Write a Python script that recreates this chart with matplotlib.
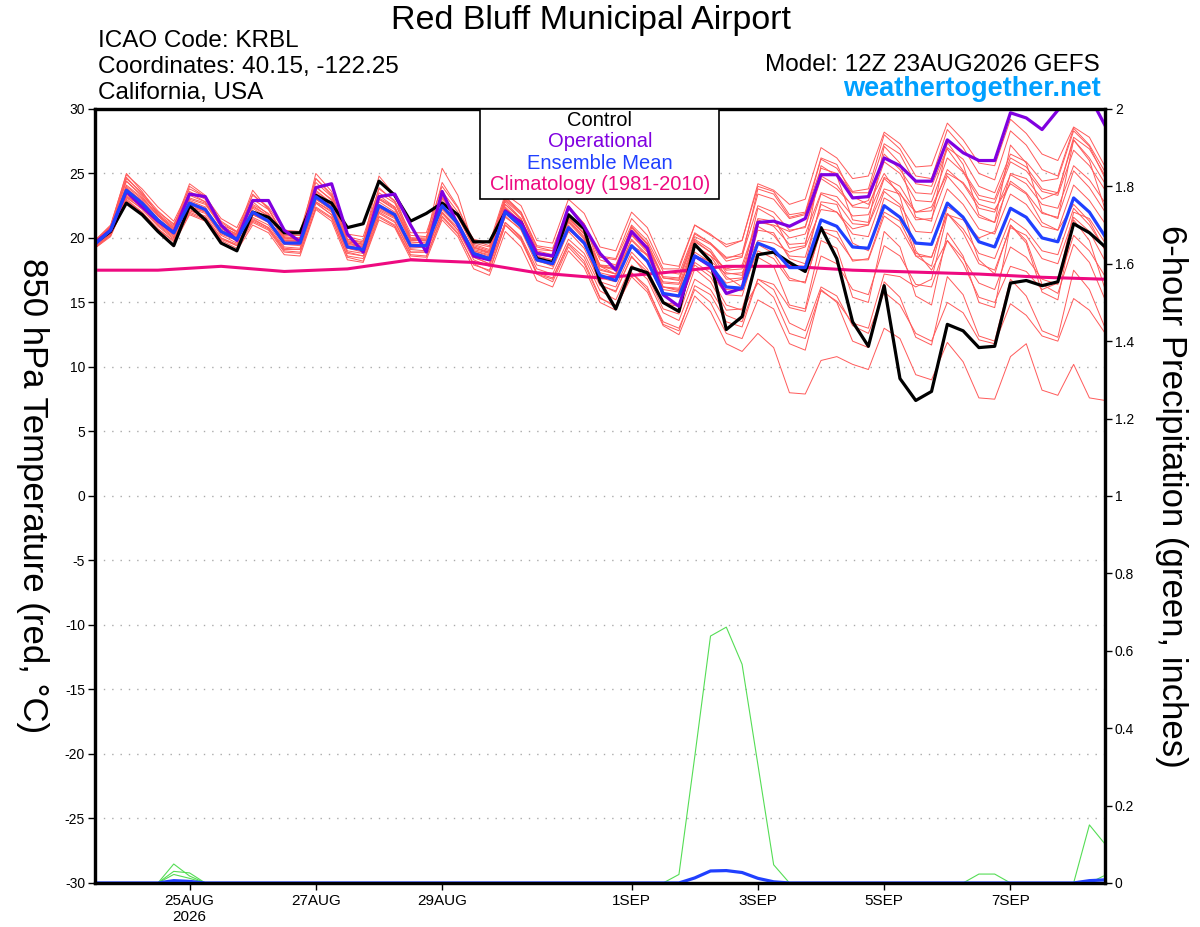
import numpy as np
import pandas as pd
import matplotlib
matplotlib.use("Agg")
import matplotlib.pyplot as plt
from matplotlib.patches import Rectangle

plt.rcParams['font.family'] = ['Liberation Sans', 'DejaVu Sans']
plt.rcParams['axes.unicode_minus'] = False

""" Data: GEFS 850 hPa temperature (C) and 6-hour precipitation (in) """
times = pd.date_range("2026-08-23 12:00", periods=65, freq="6h")
clim_times = pd.date_range("2026-08-23 12:00", periods=17, freq="D")

control = [19.6, 20.5, 22.7, 21.8, 20.5, 19.4, 22.5, 21.4, 19.6, 19.0, 22.0, 21.6,
           20.4, 20.4, 23.3, 22.7, 20.8, 21.1, 24.4, 23.3, 21.3, 21.9, 22.7, 21.8,
           19.7, 19.7, 22.0, 21.2, 18.4, 18.1, 21.8, 20.7, 16.6, 14.5, 17.7, 17.3,
           15.0, 14.3, 19.5, 18.2, 12.9, 13.9, 18.7, 18.9, 18.1, 17.4, 20.8, 18.4,
           13.5, 11.6, 16.3, 9.1, 7.4, 8.1, 13.3, 12.8, 11.5, 11.6, 16.5, 16.7,
           16.3, 16.6, 21.1, 20.4, 19.3]
operational = [19.6, 20.6, 23.6, 22.4, 21.3, 20.4, 23.4, 23.2, 21.0, 19.8, 22.9, 22.9,
               20.6, 19.7, 23.9, 24.2, 20.3, 18.9, 23.2, 23.4, 21.0, 18.9, 23.6, 21.0,
               18.6, 18.3, 22.1, 21.2, 18.8, 18.6, 22.4, 20.9, 18.8, 17.5, 20.5, 19.2,
               15.6, 14.7, 18.6, 17.8, 15.7, 16.1, 21.2, 21.3, 20.9, 21.5, 24.9, 24.9,
               23.1, 23.2, 26.2, 25.6, 24.4, 24.4, 27.6, 26.6, 26.0, 26.0, 29.7, 29.3,
               28.4, 29.9, 30.8, 31.0, 28.7]
ens_mean = [19.5, 20.6, 23.7, 22.7, 21.4, 20.4, 22.7, 22.2, 20.5, 19.9, 22.0, 21.3,
            19.6, 19.6, 23.2, 22.3, 19.3, 19.1, 22.5, 21.8, 19.4, 19.4, 22.5, 21.1,
            18.8, 18.4, 22.0, 20.9, 18.3, 18.0, 20.8, 19.6, 17.1, 16.7, 19.4, 18.2,
            15.7, 15.5, 18.6, 17.9, 16.2, 16.1, 19.6, 19.1, 17.7, 17.7, 21.4, 20.9,
            19.3, 19.2, 22.5, 21.6, 19.6, 19.5, 22.7, 21.6, 19.7, 19.3, 22.3, 21.6,
            20.0, 19.7, 23.1, 22.0, 20.1]
climatology = [17.5, 17.5, 17.8, 17.4, 17.6, 18.3, 18.1, 17.3, 16.9, 17.3, 17.8,
               17.8, 17.5, 17.35, 17.2, 16.95, 16.8]

members = [
    [19.7, 20.9, 24.6, 23.5, 22.1, 21.0, 23.6, 23.0, 21.3, 20.5, 23.0, 22.2, 20.3, 20.2, 24.3, 23.2,
     20.1, 19.8, 23.5, 22.7, 20.2, 20.1, 23.6, 22.0, 19.6, 19.3, 23.1, 22.0, 19.4, 19.2, 22.3, 21.0,
     18.5, 18.3, 21.0, 19.8, 17.4, 17.2, 20.4, 19.6, 18.5, 18.6, 22.5, 22.0, 20.6, 20.8, 24.8, 24.1,
     22.4, 22.3, 25.9, 25.0, 22.9, 22.8, 26.2, 25.1, 23.0, 22.7, 25.9, 25.2, 23.6, 23.3, 26.8, 25.6, 23.7],
    [19.4, 20.4, 23.3, 22.4, 21.1, 20.1, 22.3, 21.9, 20.2, 19.6, 21.6, 21.0, 19.3, 19.2, 22.8, 22.0,
     19.0, 18.8, 22.1, 21.5, 19.1, 19.0, 22.0, 20.8, 18.6, 18.3, 22.4, 21.2, 18.5, 18.3, 21.6, 20.3,
     17.9, 17.8, 20.6, 19.3, 16.9, 16.8, 20.1, 19.5, 18.4, 18.8, 23.4, 23.0, 21.5, 21.8, 26.1, 25.4,
     23.6, 23.8, 28.0, 26.9, 24.8, 24.6, 28.4, 27.0, 25.0, 24.5, 28.3, 27.2, 25.3, 24.8, 28.5, 27.2, 25.1],
    [19.3, 20.2, 23.0, 22.0, 20.7, 19.7, 21.9, 21.4, 19.8, 19.2, 21.2, 20.6, 18.9, 18.8, 22.4, 21.6,
     18.5, 18.2, 21.6, 20.9, 18.6, 18.5, 21.6, 20.3, 18.0, 17.4, 21.0, 19.9, 17.2, 16.8, 19.6, 18.5,
     15.9, 15.2, 17.9, 16.8, 14.2, 13.6, 16.8, 16.0, 14.0, 13.5, 16.8, 16.0, 13.4, 12.8, 16.2, 15.5,
     13.2, 12.6, 15.8, 14.8, 12.6, 12.0, 15.0, 14.2, 12.1, 11.8, 14.9, 14.0, 12.4, 12.0, 15.3, 14.4, 12.6],
    [19.6, 20.7, 24.1, 23.1, 21.8, 20.8, 23.1, 22.7, 20.9, 20.3, 22.5, 21.7, 20.0, 20.0, 23.7, 22.7,
     19.7, 19.5, 23.0, 22.2, 19.8, 19.8, 23.0, 21.6, 19.3, 18.9, 22.6, 21.4, 18.8, 18.6, 21.5, 20.3,
     17.8, 17.5, 20.3, 19.0, 16.5, 16.4, 19.7, 18.9, 17.5, 17.6, 21.4, 20.9, 19.5, 19.6, 23.4, 22.8,
     21.1, 21.0, 24.6, 23.5, 21.4, 21.5, 24.8, 23.4, 21.6, 21.2, 24.4, 23.5, 21.9, 21.6, 25.2, 23.9, 22.0],
    [19.5, 20.8, 24.4, 23.2, 21.7, 20.6, 23.5, 22.8, 20.8, 20.1, 22.8, 21.8, 19.8, 19.7, 24.0, 22.9,
     19.6, 19.3, 23.3, 22.4, 19.7, 19.6, 23.4, 21.7, 19.2, 18.9, 22.9, 21.8, 19.1, 19.0, 22.4, 21.1,
     18.6, 18.4, 21.5, 20.2, 17.6, 17.6, 21.0, 20.3, 19.3, 19.8, 24.2, 23.7, 22.6, 23.0, 27.0, 26.2,
     24.6, 24.8, 28.2, 27.3, 25.5, 25.6, 28.9, 27.6, 25.8, 25.6, 29.2, 28.1, 26.5, 26.0, 28.6, 27.8, 25.5],
    [19.2, 20.1, 22.9, 22.0, 20.6, 19.5, 21.8, 21.3, 19.6, 19.0, 21.0, 20.4, 18.7, 18.6, 22.2, 21.3,
     18.3, 18.1, 21.4, 20.8, 18.4, 18.3, 21.4, 20.1, 17.6, 17.1, 20.5, 19.3, 16.7, 16.2, 19.0, 17.7,
     15.0, 14.4, 17.3, 16.2, 13.3, 12.8, 16.3, 15.6, 13.5, 13.1, 16.8, 16.4, 14.6, 14.3, 18.6, 18.0,
     16.0, 15.6, 19.4, 18.6, 16.4, 16.2, 19.8, 18.4, 16.5, 16.0, 19.3, 18.5, 16.8, 16.4, 20.2, 19.0, 17.0],
    [19.4, 20.5, 23.5, 22.6, 21.2, 20.2, 22.6, 22.0, 20.3, 19.8, 21.8, 21.2, 19.5, 19.4, 23.0, 22.2,
     19.2, 18.9, 22.4, 21.6, 19.2, 19.3, 22.3, 21.0, 18.5, 18.0, 21.2, 20.0, 17.3, 16.9, 19.5, 18.2,
     15.4, 14.6, 17.0, 15.8, 13.2, 12.5, 15.5, 14.3, 11.8, 11.2, 12.6, 11.5, 8.0, 7.9, 10.5, 10.8,
     10.2, 9.8, 13.0, 12.2, 9.4, 9.0, 11.9, 10.4, 7.6, 7.5, 10.8, 11.8, 8.2, 7.8, 10.2, 7.6, 7.4],
    [19.8, 21.0, 24.9, 23.8, 22.4, 21.3, 23.8, 23.2, 21.5, 20.8, 23.3, 22.4, 20.6, 20.5, 24.6, 23.4,
     20.3, 20.1, 23.8, 22.9, 20.4, 20.4, 24.0, 22.3, 19.8, 19.4, 23.2, 22.0, 19.3, 19.0, 22.4, 20.9,
     18.3, 17.9, 20.8, 19.5, 16.9, 16.7, 19.9, 19.1, 17.3, 17.1, 20.9, 20.2, 18.6, 18.5, 22.6, 22.0,
     20.3, 20.1, 23.6, 22.6, 20.5, 20.4, 23.8, 22.6, 20.7, 20.3, 23.4, 22.6, 20.9, 20.6, 24.1, 22.9, 21.1],
    [19.5, 20.5, 23.4, 22.5, 21.3, 20.4, 22.4, 22.1, 20.6, 20.0, 21.8, 21.3, 19.8, 19.8, 23.0, 22.2,
     19.5, 19.3, 22.3, 21.7, 19.5, 19.5, 22.3, 21.2, 19.0, 18.7, 22.3, 21.1, 18.6, 18.3, 21.4, 20.1,
     17.5, 17.2, 20.2, 18.9, 16.2, 16.0, 19.4, 18.6, 16.8, 16.9, 22.3, 21.6, 19.2, 19.4, 25.6, 24.8,
     21.4, 21.2, 27.1, 25.8, 21.6, 21.3, 27.4, 25.7, 21.8, 21.2, 27.2, 25.8, 22.0, 21.5, 27.6, 26.0, 22.2],
    [19.3, 20.3, 23.1, 22.3, 21.0, 20.0, 22.1, 21.7, 20.0, 19.5, 21.4, 20.8, 19.2, 19.1, 22.7, 21.8,
     18.9, 18.6, 21.9, 21.2, 18.9, 18.9, 21.9, 20.6, 18.3, 17.8, 21.2, 20.1, 17.6, 17.2, 19.9, 18.8,
     16.3, 15.9, 18.5, 17.4, 14.9, 14.7, 18.1, 17.3, 15.6, 15.5, 19.5, 18.8, 16.9, 16.5, 20.7, 20.5,
     18.2, 18.4, 22.0, 21.3, 18.8, 18.5, 21.9, 20.4, 18.0, 17.5, 20.8, 20.2, 18.4, 18.0, 21.6, 20.5, 18.2],
    [19.7, 20.8, 24.7, 23.4, 21.9, 20.9, 24.2, 23.3, 21.2, 20.4, 23.7, 22.2, 20.1, 20.0, 25.0, 23.6,
     19.9, 19.6, 24.8, 23.3, 20.0, 19.9, 25.4, 23.3, 19.3, 18.8, 22.8, 21.5, 18.3, 17.8, 21.0, 19.6,
     16.4, 15.8, 18.6, 17.1, 14.5, 14.1, 17.6, 16.6, 14.4, 14.5, 18.5, 17.8, 14.8, 14.5, 19.8, 19.2,
     15.4, 15.0, 20.5, 19.3, 15.5, 14.8, 20.4, 18.6, 15.0, 14.6, 21.0, 19.6, 15.8, 15.2, 21.4, 19.8, 16.0],
    [19.6, 20.6, 23.8, 22.9, 21.5, 20.5, 22.8, 22.3, 20.6, 20.0, 22.1, 21.4, 19.7, 19.7, 23.4, 22.5,
     19.4, 19.2, 22.6, 21.9, 19.5, 19.5, 22.6, 21.2, 19.0, 18.6, 22.3, 21.3, 18.8, 18.5, 21.6, 20.4,
     17.9, 17.6, 20.8, 19.6, 17.0, 16.9, 20.3, 19.6, 18.2, 18.5, 23.8, 23.4, 21.6, 21.9, 25.4, 25.0,
     23.5, 23.5, 27.3, 26.5, 24.2, 24.0, 27.0, 26.1, 24.0, 23.5, 26.5, 25.9, 24.4, 24.6, 28.3, 27.1, 24.6],
    [19.2, 20.2, 22.8, 21.9, 20.7, 19.8, 22.0, 21.5, 19.9, 19.4, 21.3, 20.7, 19.0, 18.9, 22.3, 21.5,
     18.6, 18.4, 21.7, 21.0, 18.7, 18.6, 21.7, 20.4, 17.9, 17.5, 21.0, 19.8, 17.2, 16.6, 19.3, 18.0,
     15.3, 14.8, 17.3, 16.0, 13.5, 13.0, 16.0, 15.0, 12.6, 12.2, 15.2, 14.5, 11.8, 11.3, 16.0, 15.0,
     12.0, 11.5, 16.6, 15.4, 12.3, 11.7, 17.0, 15.6, 12.4, 12.0, 16.8, 15.5, 12.8, 12.3, 17.5, 16.0, 13.0],
    [19.5, 20.6, 23.9, 22.8, 21.4, 20.3, 22.9, 22.4, 20.4, 19.8, 22.3, 21.5, 19.5, 19.5, 23.5, 22.4,
     19.2, 19.0, 22.8, 22.0, 19.3, 19.3, 22.8, 21.3, 18.8, 18.4, 22.2, 21.1, 18.4, 18.1, 21.2, 19.9,
     17.3, 17.0, 19.9, 18.7, 16.2, 16.1, 19.3, 18.6, 17.6, 17.9, 21.5, 21.3, 20.0, 20.3, 23.5, 23.2,
     21.7, 21.8, 24.7, 24.0, 22.0, 22.1, 25.3, 24.2, 22.3, 22.0, 24.9, 24.2, 22.6, 22.3, 25.6, 24.5, 22.7],
    [19.8, 20.9, 24.4, 23.3, 22.0, 21.1, 23.3, 22.8, 21.0, 20.5, 22.6, 21.9, 20.2, 20.2, 23.9, 23.0,
     19.9, 19.7, 23.1, 22.4, 20.0, 20.0, 23.2, 21.8, 19.4, 19.0, 22.6, 21.5, 18.9, 18.6, 21.3, 20.0,
     17.6, 17.2, 19.8, 18.6, 16.0, 15.8, 18.9, 18.1, 16.0, 15.9, 19.0, 18.4, 16.7, 16.6, 20.6, 20.0,
     18.3, 18.3, 21.7, 20.8, 18.6, 18.5, 21.9, 20.7, 18.8, 18.4, 21.5, 20.6, 19.0, 18.7, 22.3, 21.0, 19.1],
    [19.4, 20.6, 23.6, 22.6, 21.4, 20.5, 22.6, 22.2, 20.6, 20.0, 22.0, 21.4, 19.7, 19.6, 23.1, 22.3,
     19.3, 19.1, 22.4, 21.8, 19.4, 19.4, 22.4, 21.1, 18.9, 18.5, 21.9, 20.8, 18.2, 17.9, 20.7, 19.5,
     16.9, 16.6, 19.3, 18.1, 15.6, 15.4, 18.5, 17.8, 16.5, 16.8, 21.2, 21.0, 20.5, 20.9, 24.6, 23.8,
     22.5, 22.9, 26.5, 25.3, 23.5, 23.4, 26.9, 25.2, 23.3, 23.0, 26.2, 25.5, 23.8, 23.5, 27.6, 26.2, 24.2],
    [19.6, 20.8, 24.0, 23.0, 21.7, 20.7, 23.0, 22.6, 20.9, 20.3, 22.4, 21.7, 20.0, 19.9, 23.6, 22.7,
     19.7, 19.5, 23.0, 22.3, 19.9, 19.9, 23.1, 21.7, 19.9, 19.6, 23.4, 22.5, 19.8, 19.6, 23.0, 21.9,
     19.3, 19.0, 22.0, 20.8, 18.0, 17.8, 21.0, 20.2, 19.5, 19.8, 24.0, 23.6, 21.8, 22.0, 26.2, 25.7,
     23.2, 22.6, 25.0, 23.2, 19.0, 17.5, 19.8, 18.0, 15.4, 15.0, 17.8, 17.4, 16.0, 16.5, 22.0, 21.5, 19.6],
    [19.3, 20.3, 23.2, 22.2, 20.9, 19.9, 22.2, 21.6, 20.0, 19.4, 21.5, 20.8, 19.1, 19.1, 22.7, 21.8,
     18.8, 18.6, 22.0, 21.3, 18.9, 18.9, 22.0, 20.6, 18.5, 18.0, 21.7, 20.6, 17.9, 17.6, 20.5, 19.2,
     16.6, 16.2, 18.9, 17.6, 15.0, 14.8, 17.9, 17.0, 14.8, 14.4, 16.5, 15.4, 12.6, 12.2, 15.9, 15.1,
     13.4, 13.0, 17.2, 17.0, 16.2, 16.8, 21.8, 21.4, 20.0, 20.5, 25.0, 24.6, 23.0, 23.5, 27.8, 26.9, 24.8],
    [19.6, 20.9, 25.0, 23.6, 21.8, 20.7, 24.0, 23.2, 21.0, 20.2, 23.4, 22.3, 20.0, 19.9, 24.6, 23.3,
     19.8, 19.5, 23.9, 22.8, 19.9, 19.8, 24.3, 22.4, 19.5, 19.1, 23.0, 21.9, 19.0, 18.7, 22.5, 21.1,
     17.8, 17.2, 20.9, 19.5, 16.2, 15.9, 19.8, 18.9, 17.0, 16.2, 20.6, 20.4, 18.4, 18.0, 22.8, 22.6,
     19.6, 19.0, 23.1, 22.4, 18.6, 17.8, 22.4, 21.7, 18.3, 17.2, 21.0, 19.8, 16.4, 15.7, 19.5, 18.1, 15.2],
    [19.5, 20.4, 23.2, 22.5, 21.4, 20.6, 22.4, 22.0, 20.7, 20.2, 21.8, 21.3, 19.9, 19.9, 22.8, 22.1,
     19.6, 19.4, 22.2, 21.6, 19.6, 19.7, 22.2, 21.0, 19.1, 18.8, 21.6, 20.7, 18.7, 18.5, 20.6, 19.8,
     17.8, 17.6, 19.4, 18.7, 16.6, 16.5, 18.6, 18.2, 17.2, 17.3, 19.8, 19.6, 18.9, 19.3, 22.2, 22.0,
     20.7, 21.0, 23.8, 23.4, 22.0, 22.4, 25.0, 24.3, 22.6, 22.2, 24.2, 23.4, 21.2, 20.6, 22.6, 21.3, 19.0],
]

# 6-hour precipitation, members with any rain (the rest stay at zero)
precip_members = [
    [0.0] * 5 + [0.049, 0.018] + [0.0] * 58,
    [0.0] * 5 + [0.030, 0.026] + [0.0] * 58,
    [0.0] * 5 + [0.022, 0.012] + [0.0] * 58,
    [0.0] * 37 + [0.022, 0.326, 0.638, 0.661, 0.565, 0.306, 0.047] + [0.0] * 21,
    [0.0] * 56 + [0.023, 0.023] + [0.0] * 7,
    [0.0] * 63 + [0.150, 0.100],
    [0.0] * 64 + [0.020],
]
precip_mean = ([0.0] * 5 + [0.006, 0.004] + [0.0] * 31
               + [0.013, 0.031, 0.032, 0.027, 0.012, 0.003] + [0.0] * 19 + [0.006, 0.008])

tick_dates = pd.to_datetime(["2026-08-25", "2026-08-27", "2026-08-29", "2026-09-01",
                             "2026-09-03", "2026-09-05", "2026-09-07"])
tick_labels = ["25AUG\n2026", "27AUG", "29AUG", "1SEP", "3SEP", "5SEP", "7SEP"]

for m in members + precip_members:
    assert len(m) == 65, len(m)
assert len(precip_mean) == 65

""" Figure """
fig = plt.figure(figsize=(12, 9.27), dpi=100)
ax = fig.add_axes([0.079, 0.0475, 0.842, 0.835])
ax2 = ax.twinx()

for m in members:
    ax.plot(times, m, color='#ff5a5a', lw=0.7, zorder=2)
ax.plot(clim_times, climatology, color='#ee0a80', lw=2.2, zorder=3)
ax.plot(times, control, color='black', lw=2.3, zorder=4)
ax.plot(times, operational, color='#8000e0', lw=2.3, zorder=5)
ax.plot(times, ens_mean, color='#2040ff', lw=2.3, zorder=6)

# precip under the right axis' spines so the zero line hides behind the frame
for p in precip_members:
    ax2.plot(times, p, color='#55dd55', lw=0.8, zorder=1.5)
ax2.plot(times, precip_mean, color='#2040ff', lw=2.3, zorder=2)

ax.set_xlim(times[0], times[-1])
ax.set_ylim(-30, 30)
ax.set_yticks(range(-30, 31, 5))
ax2.set_ylim(0, 2)
ax2.set_yticks(np.arange(0, 2.01, 0.2))
ax2.set_yticklabels(['0', '0.2', '0.4', '0.6', '0.8', '1', '1.2', '1.4', '1.6', '1.8', '2'])
ax.set_xticks(tick_dates)
ax.set_xticklabels(tick_labels)

ax.yaxis.grid(True, color='#aaaaaa', linestyle=(0, (1, 5)), lw=1.0)
ax.set_axisbelow(True)
for a in (ax, ax2):
    for s in a.spines.values():
        s.set_linewidth(2.3)
    a.tick_params(direction='out', length=5, width=1, labelsize=10, pad=2)
ax.tick_params(axis='x', labelsize=11, pad=3)

ax.set_ylabel("850 hPa Temperature (red, \u00b0C)", fontsize=25, rotation=270,
              va='center', ha='center')
ax.yaxis.set_label_coords(-0.062, 0.5)
ax2.set_ylabel("6-hour Precipitation (green, inches)", fontsize=25, rotation=270,
               va='center', ha='center')
ax2.yaxis.set_label_coords(1.066, 0.5)

# legend box
ax2.add_patch(Rectangle((0.381, 0.884), 0.237, 0.116, transform=ax2.transAxes,
                        facecolor='white', edgecolor='black', lw=1.2, zorder=10))
leg = [("Control", 'black'), ("Operational", '#8000e0'),
       ("Ensemble Mean", '#2040ff'), ("Climatology (1981-2010)", '#ee0a80')]
for k, (txt, col) in enumerate(leg):
    ax2.text(0.5, 0.985 - k * 0.0275, txt, color=col, fontsize=14.5, ha='center',
             va='center', transform=ax2.transAxes, zorder=11)

# header
fig.text(0.4925, 0.978, "Red Bluff Municipal Airport", fontsize=24.5, ha='center', va='center')
fig.text(0.0817, 0.9555, "ICAO Code: KRBL", fontsize=17.5, va='center')
fig.text(0.0817, 0.9275, "Coordinates: 40.15, -122.25", fontsize=17.5, va='center')
fig.text(0.0817, 0.8995, "California, USA", fontsize=17.5, va='center')
fig.text(0.9167, 0.93, "Model: 12Z 23AUG2026 GEFS", fontsize=17.5, ha='right', va='center')
fig.text(0.9175, 0.904, "weathertogether.net", fontsize=19.5, ha='right', va='center',
         color='#00a0ff', fontweight='bold')

fig.savefig("out.png", dpi=100)
